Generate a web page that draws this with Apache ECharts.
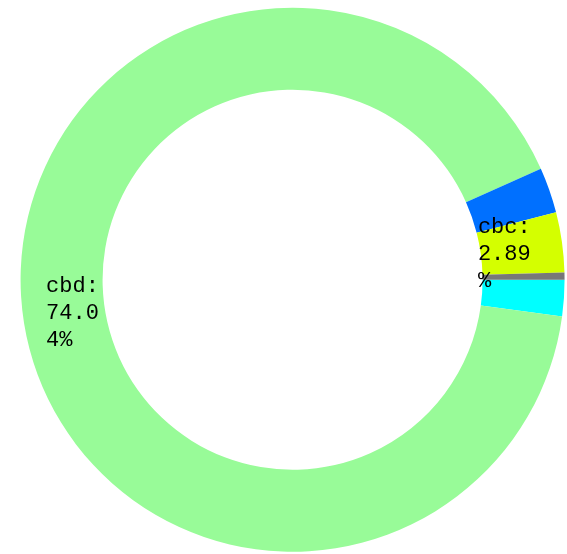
<!DOCTYPE html>
<html>
<head>
<meta charset="utf-8">
<script src="https://cdn.jsdelivr.net/npm/echarts@6/dist/echarts.min.js"></script>
<style>
html,body{margin:0;padding:0;background:#fff;}
#chart{width:567px;height:554px;}
</style>
</head>
<body>
<div id="chart"></div>
<script>
// Slice names, values and colours (order: clockwise from the 3 o'clock position)
const names  = ['cbe', 'cbd', 'cba', 'cbc', 'cbb'];
const values = [1.75, 74.04, 2.2, 2.89, 0.35];
const colors = ['#00ffff', '#98fb98', '#0070ff', '#d4ff00', '#787878'];
const labelled = ['cbd', 'cbc'];

// wrap label text into fixed-width monospace lines (left aligned)
const LINE = 4;
function wrap(text) {
  const lines = [];
  text.split(' ').forEach(w => {
    for (let i = 0; i < w.length; i += LINE) lines.push(w.slice(i, i + LINE).padEnd(LINE, '\u00a0'));
  });
  return lines.join('\n');
}

const labelPad = { cbd: [0, 0, 0, 23], cbc: [0, 40, 0, 0] };
const labelShift = { cbd: [0, 0], cbc: [0, 7] };

const chart = echarts.init(document.getElementById('chart'));
chart.setOption({
  animation: false,
  series: [{
    type: 'pie',
    center: ['51.6%', '50.5%'],
    radius: [190, 272],
    startAngle: 0,
    clockwise: true,
    avoidLabelOverlap: false,
    label: {
      position: 'inside',
      formatter: p => wrap(p.name + ': ' + p.value + '%'),
      fontFamily: 'Liberation Mono',
      fontSize: 22,
      lineHeight: 27,
      color: '#000'
    },
    labelLine: { show: false },
    emphasis: { disabled: true },
    data: names.map((n, i) => ({
      name: n,
      value: values[i],
      itemStyle: { color: colors[i] },
      label: { show: labelled.includes(n), padding: labelPad[n] || 0, offset: labelShift[n] || [0, 0] }
    }))
  }]
});
</script>
</body>
</html>
